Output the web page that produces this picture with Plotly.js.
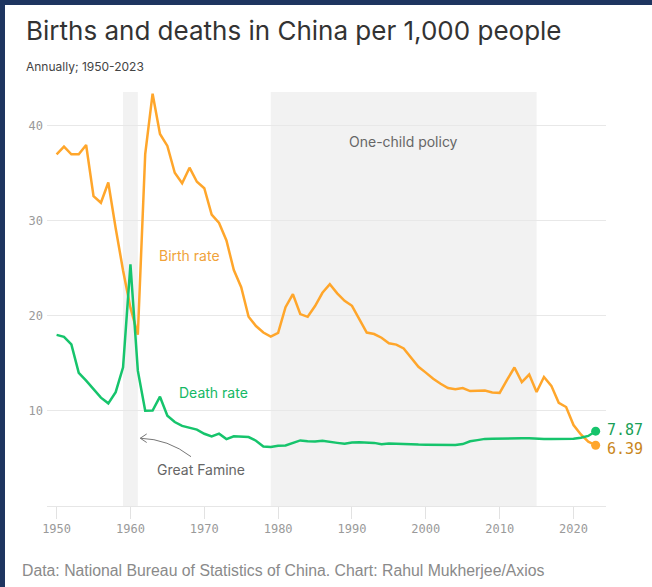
<!DOCTYPE html>
<html>
<head>
<meta charset="utf-8">
<script src="https://cdn.plot.ly/plotly-3.0.1.min.js"></script>
<style>
  html, body { margin: 0; padding: 0; background: #ffffff; }
  #frame { position: absolute; left: 0; top: 0; width: 652px; height: 587px; background: #1e3560; }
  #chart { position: absolute; left: 5px; top: 5px; width: 647px; height: 582px; background: #fff; }
</style>
</head>
<body>
<div id="frame"></div>
<div id="chart"></div>
<script>
// ---- Data (per 1,000 people), National Bureau of Statistics of China ----
const years = [];
for (let y = 1950; y <= 2023; y++) years.push(y);

const birthRate = [
  37.00, 37.80, 37.00, 37.00, 37.97, 32.60, 31.90, 34.03, 29.22, 24.78,
  20.86, 18.02, 37.01, 43.37, 39.14, 37.88, 35.05, 33.96, 35.59, 34.11,
  33.43, 30.65, 29.77, 27.93, 24.82, 23.01, 19.91, 18.93, 18.25, 17.82,
  18.21, 20.91, 22.28, 20.19, 19.90, 21.04, 22.43, 23.33, 22.37, 21.58,
  21.06, 19.68, 18.24, 18.09, 17.70, 17.12, 16.98, 16.57, 15.64, 14.64,
  14.03, 13.38, 12.86, 12.41, 12.29, 12.40, 12.09, 12.10, 12.14, 11.95,
  11.90, 13.27, 14.57, 13.03, 13.83, 11.99, 13.57, 12.64, 10.86, 10.41,
  8.52, 7.52, 6.77, 6.39
];

const deathRate = [
  18.00, 17.80, 17.00, 14.00, 13.18, 12.28, 11.40, 10.80, 11.98, 14.59,
  25.43, 14.24, 10.02, 10.04, 11.50, 9.50, 8.83, 8.43, 8.21, 8.03,
  7.60, 7.32, 7.61, 7.04, 7.34, 7.32, 7.25, 6.87, 6.25, 6.21,
  6.34, 6.36, 6.60, 6.90, 6.82, 6.78, 6.86, 6.72, 6.64, 6.54,
  6.67, 6.70, 6.64, 6.64, 6.49, 6.57, 6.56, 6.51, 6.50, 6.46,
  6.45, 6.43, 6.41, 6.40, 6.42, 6.51, 6.81, 6.93, 7.06, 7.08,
  7.11, 7.14, 7.13, 7.13, 7.12, 7.07, 7.04, 7.06, 7.08, 7.09,
  7.07, 7.18, 7.37, 7.87
];

const famineYears = [1959, 1961];
const oneChildYears = [1979, 2015];
const xTickVals = [1950, 1960, 1970, 1980, 1990, 2000, 2010, 2020];
const xTickText = ["1950", "1960", "1970", "1980", "1990", "2000", "2010", "2020"];
const yTickVals = [10, 20, 30, 40];
const yTickText = ["10", "20", "30", "40"];

// ---- Styles ----
const BIRTH = '#ffa62b';
const DEATH = '#16c46c';
const GRAY_TXT = '#666666';
const SANS = 'Inter, "Open Sans", sans-serif';
const MONO = '"DejaVu Sans Mono", monospace';

// pixel helpers for paper coords (plot area: x 46.7..605.7, y 92..506 in page px)
const OFFX = 5, OFFY = 5;
const PL = 46.7 - OFFX, PR = 605.7 - OFFX, PT = 92 - OFFY, PB = 506 - OFFY;
const px = x => ((x - OFFX) - PL) / (PR - PL);
const py = y => (PB - (y - OFFY)) / (PB - PT);

const lastIdx = years.length - 1;

const traces = [
  { x: years, y: birthRate, type: 'scatter', mode: 'lines',
    line: { color: BIRTH, width: 2.5 }, hoverinfo: 'skip' },
  { x: years, y: deathRate, type: 'scatter', mode: 'lines',
    line: { color: DEATH, width: 2.5 }, hoverinfo: 'skip' },
  { x: [years[lastIdx]], y: [birthRate[lastIdx]], type: 'scatter', mode: 'markers',
    marker: { color: BIRTH, size: 9 }, hoverinfo: 'skip' },
  { x: [years[lastIdx]], y: [deathRate[lastIdx]], type: 'scatter', mode: 'markers',
    marker: { color: DEATH, size: 9 }, hoverinfo: 'skip' }
];

const layout = {
  width: 647, height: 582,
  margin: { l: PL, r: 647 - PR, t: PT, b: 582 - PB, pad: 0 },
  paper_bgcolor: '#ffffff', plot_bgcolor: '#ffffff',
  showlegend: false,
  xaxis: {
    range: [1948.7, 2024.4],
    tickvals: xTickVals, ticktext: xTickText,
    ticks: 'outside', ticklen: 12, tickcolor: '#e2e2e2', tickwidth: 1,
    showgrid: false, zeroline: false,
    showline: true, linecolor: '#e6e6e6', linewidth: 1,
    tickfont: { family: MONO, size: 12, color: '#9a9a9a' }
  },
  yaxis: {
    range: [0, 43.55],
    tickvals: yTickVals, ticktext: yTickText,
    showgrid: true, gridcolor: '#e8e8e8', gridwidth: 1,
    zeroline: false, showline: false, ticks: '',
    ticklabelstandoff: 3,
    tickfont: { family: MONO, size: 12, color: '#9a9a9a' }
  },
  shapes: [
    { type: 'rect', layer: 'below', xref: 'x', yref: 'paper',
      x0: famineYears[0], x1: famineYears[1], y0: 0, y1: 1,
      fillcolor: '#f2f2f2', line: { width: 0 } },
    { type: 'rect', layer: 'below', xref: 'x', yref: 'paper',
      x0: oneChildYears[0], x1: oneChildYears[1], y0: 0, y1: 1,
      fillcolor: '#f2f2f2', line: { width: 0 } },
    { type: 'path', xref: 'x', yref: 'y', layer: 'above',
      path: 'M 1968.2,5.19 Q 1965.12,7.04 1961.33,7.13 M 1962.2,7.58 L 1961.33,7.13 L 1962.2,6.68',
      line: { color: '#777777', width: 1 } }
  ],
  annotations: [
    { xref: 'paper', yref: 'paper', x: px(24), y: py(30), xanchor: 'left', yanchor: 'middle',
      text: 'Births and deaths in China per 1,000 people', showarrow: false,
      font: { family: SANS, size: 26, color: '#333333' } },
    { xref: 'paper', yref: 'paper', x: px(24), y: py(67), xanchor: 'left', yanchor: 'middle',
      text: 'Annually; 1950-2023', showarrow: false,
      font: { family: SANS, size: 12, color: '#444444' } },
    { xref: 'paper', yref: 'paper', x: px(20), y: py(570), xanchor: 'left', yanchor: 'middle',
      text: 'Data: National Bureau of Statistics of China. Chart: Rahul Mukherjee/Axios', showarrow: false,
      font: { family: '"Liberation Sans", Arial, sans-serif', size: 15.8, color: '#8a8a8a' } },
    { xref: 'x', yref: 'y', x: 1997, y: 38.3, xanchor: 'center', yanchor: 'middle',
      text: 'One-child policy', showarrow: false,
      font: { family: SANS, size: 14, color: GRAY_TXT } },
    { xref: 'x', yref: 'y', x: 1968.0, y: 26.3, xanchor: 'center', yanchor: 'middle',
      text: 'Birth rate', showarrow: false,
      font: { family: SANS, size: 14, color: '#f0a23a' } },
    { xref: 'x', yref: 'y', x: 1971.2, y: 11.9, xanchor: 'center', yanchor: 'middle',
      text: 'Death rate', showarrow: false,
      font: { family: SANS, size: 14, color: '#14b865' } },
    { xref: 'x', yref: 'y', x: 1969.6, y: 3.86, xanchor: 'center', yanchor: 'middle',
      text: 'Great Famine', showarrow: false,
      font: { family: SANS, size: 14, color: GRAY_TXT } },
    { xref: 'x', yref: 'y', x: years[lastIdx], y: deathRate[lastIdx], xanchor: 'left', yanchor: 'middle',
      xshift: 9, yshift: 1, text: deathRate[lastIdx].toFixed(2), showarrow: false,
      font: { family: MONO, size: 15, color: '#1a9f58' } },
    { xref: 'x', yref: 'y', x: years[lastIdx], y: birthRate[lastIdx], xanchor: 'left', yanchor: 'middle',
      xshift: 9, yshift: -4, text: birthRate[lastIdx].toFixed(2), showarrow: false,
      font: { family: MONO, size: 15, color: '#c98620' } }
  ]
};

Plotly.newPlot('chart', traces, layout, { displayModeBar: false, staticPlot: true });
</script>
</body>
</html>
